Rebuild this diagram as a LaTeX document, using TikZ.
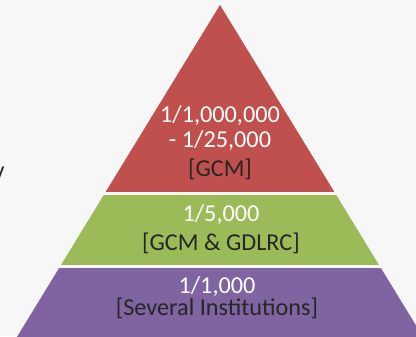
\documentclass[tikz,border=0pt]{standalone}
\usepackage{fontspec}
\setmainfont{Carlito}
\definecolor{paper}{HTML}{F7F7F7}
\definecolor{bandred}{HTML}{C0504D}
\definecolor{bandgreen}{HTML}{9BBB59}
\definecolor{bandpurple}{HTML}{8064A2}
\tikzset{
  bandtext/.style={inner sep=0pt, anchor=base, align=center,
    font=\fontsize{13.8}{15}\selectfont}, % the lines of a band
  darktext/.style={text=black!85},
}

\begin{document}
\begin{tikzpicture}[x=0.02cm, y=-0.02cm]
    \fill[paper] (0,0) rectangle (416,336);
    \useasboundingbox (0,0) rectangle (416,336);
    \clip (0,0) rectangle (416,336);

    % pyramid, cut into three bands
    \foreach \ya/\yb/\col in {5/191/bandred, 195/264/bandgreen,
      268/340/bandpurple}{
      \begin{scope}
        \clip (0,\ya) rectangle (440,\yb);
        \fill[\col] (220,5) -- (428,345) -- (12,345) -- cycle;
      \end{scope}
    }

    % base anchor sits on the last line
    \node[bandtext, text=white] (redtier) at (220,176) {1/1,000,000\\[-0.5pt]
      - 1/25,000\\[1pt]\textcolor{black!85}{[GCM]}};
    \node[bandtext, text=white] (greentier) at (221,250)
      {1/5,000\\[1pt]\textcolor{black!85}{[GCM \& GDLRC]}};
    \node[bandtext, text=white] (purpletier) at (217,315)
      {1/1,000\\[-2.5pt]\textcolor{black!85}{[Several Institutions]}};

    \node[bandtext, darktext] (cut) at (-1,178) {v};
\end{tikzpicture}
\end{document}
